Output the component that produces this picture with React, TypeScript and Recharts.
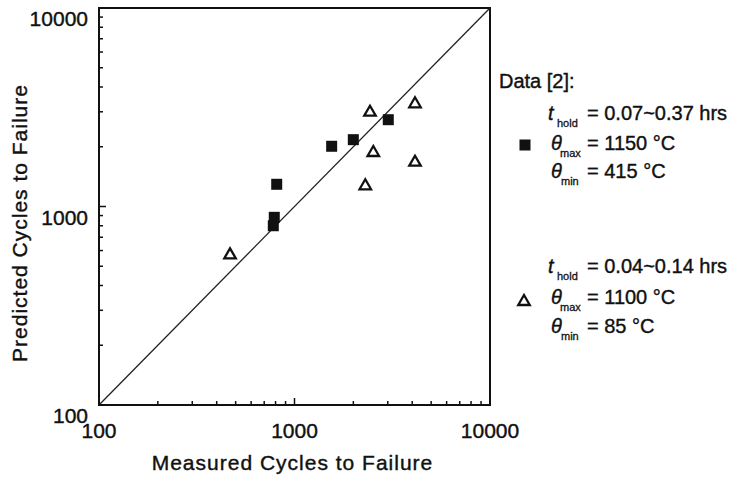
import React from 'react';
import {
  ScatterChart,
  Scatter,
  XAxis,
  YAxis,
  ReferenceLine,
  ReferenceArea,
  Label,
} from 'recharts';

const FONT = '"Liberation Sans", Arial, Helvetica, sans-serif';
const INK = '#111';

const decades = [100, 1000, 10000];
const minorTicks = [
  200, 300, 400, 500, 600, 700, 800, 900,
  2000, 3000, 4000, 5000, 6000, 7000, 8000, 9000,
];
const allTicks = [...decades, ...minorTicks].sort((a, b) => a - b);

// t_hold = 0.07~0.37 hrs, θmax 1150 °C, θmin 415 °C
const longHoldMeasured = [811, 788, 779, 1549, 1999, 3018];
const longHoldPredicted = [1294, 882, 800, 2011, 2171, 2737];

// t_hold = 0.04~0.14 hrs, θmax 1100 °C, θmin 85 °C
const shortHoldMeasured = [468, 2433, 4134, 2530, 4134, 2302];
const shortHoldPredicted = [581, 3038, 3350, 1904, 1701, 1294];

const longHold = longHoldMeasured.map((x, i) => ({ x, y: longHoldPredicted[i] }));
const shortHold = shortHoldMeasured.map((x, i) => ({ x, y: shortHoldPredicted[i] }));

const isMajor = (v: number) => decades.includes(v);

// a thin outline makes the sans text read a little heavier
const heavy = { stroke: INK, strokeWidth: 0.4 };

function BottomTick({ x, y, payload }: any) {
  const major = isMajor(payload.value);
  return (
    <g>
      <line x1={x} x2={x} y1={y} y2={y - (major ? 7 : 4)} stroke={INK} strokeWidth={1.5} />
      {major && (
        <text x={x} y={y + 33} textAnchor="middle" fontSize={21} fontFamily={FONT} fill={INK} {...heavy}>
          {payload.value}
        </text>
      )}
    </g>
  );
}

function LeftTick({ x, y, payload }: any) {
  const major = isMajor(payload.value);
  return (
    <g>
      <line x1={x} x2={x + (major ? 7 : 4)} y1={y} y2={y} stroke={INK} strokeWidth={1.5} />
      {major && (
        <text x={x - 11} y={y + 18} textAnchor="end" fontSize={21} fontFamily={FONT} fill={INK} {...heavy}>
          {payload.value}
        </text>
      )}
    </g>
  );
}

function RightTick({ x, y, payload }: any) {
  const major = isMajor(payload.value);
  return <line x1={x} x2={x - (major ? 7 : 4)} y1={y} y2={y} stroke={INK} strokeWidth={1.5} />;
}

function SquareMark({ cx, cy }: any) {
  return <rect x={cx - 5.5} y={cy - 5.5} width={11} height={11} fill={INK} />;
}

function TriangleMark({ cx, cy }: any) {
  const w = 11.5;
  const h = 10;
  return (
    <polygon
      points={`${cx},${cy - h / 2} ${cx + w / 2},${cy + h / 2} ${cx - w / 2},${cy + h / 2}`}
      fill="#fff"
      stroke={INK}
      strokeWidth={2.3}
    />
  );
}

const titleStyle = { fontSize: 21, fontFamily: FONT, fill: INK, letterSpacing: 1, ...heavy };

function Legend() {
  const row = { fontSize: 20, fontFamily: FONT, fill: INK, ...heavy };
  const sub = { fontSize: 11, fontFamily: FONT, strokeWidth: 0.3 };
  return (
    <svg
      width={731}
      height={477}
      style={{ position: 'absolute', left: 0, top: 0, pointerEvents: 'none' }}
    >
      <text x={499} y={88} {...row}>Data [2]:</text>

      <text x={548} y={120} {...row}>
        <tspan fontStyle="italic">t</tspan>
        <tspan x={557} dy={7} {...sub}>hold</tspan>
        <tspan x={587} dy={-7}>= 0.07~0.37 hrs</tspan>
      </text>
      <SquareMark cx={525} cy={145} />
      <text x={551} y={150} {...row}>
        <tspan fontStyle="italic">θ</tspan>
        <tspan x={560} dy={7} {...sub}>max</tspan>
        <tspan x={587} dy={-7}>= 1150 °C</tspan>
      </text>
      <text x={551} y={178} {...row}>
        <tspan fontStyle="italic">θ</tspan>
        <tspan x={561} dy={7} {...sub}>min</tspan>
        <tspan x={587} dy={-7}>= 415 °C</tspan>
      </text>

      <text x={548} y={273} {...row}>
        <tspan fontStyle="italic">t</tspan>
        <tspan x={557} dy={7} {...sub}>hold</tspan>
        <tspan x={587} dy={-7}>= 0.04~0.14 hrs</tspan>
      </text>
      <TriangleMark cx={524} cy={300} />
      <text x={551} y={304} {...row}>
        <tspan fontStyle="italic">θ</tspan>
        <tspan x={560} dy={7} {...sub}>max</tspan>
        <tspan x={587} dy={-7}>= 1100 °C</tspan>
      </text>
      <text x={551} y={333} {...row}>
        <tspan fontStyle="italic">θ</tspan>
        <tspan x={561} dy={7} {...sub}>min</tspan>
        <tspan x={587} dy={-7}>= 85 °C</tspan>
      </text>
    </svg>
  );
}

export default function App() {
  return (
    <div style={{ position: 'absolute', left: 0, top: 0, width: 731, height: 477, background: '#fff' }}>
      <ScatterChart width={731} height={477} margin={{ top: 8, right: 241, bottom: 0, left: 0 }}>
        <XAxis
          dataKey="x"
          type="number"
          scale="log"
          domain={[100, 10000]}
          ticks={allTicks}
          interval={0}
          allowDataOverflow
          height={72}
          axisLine={false}
          tickLine={false}
          tickSize={0}
          tickMargin={0}
          tick={<BottomTick />}
        >
          <Label
            content={({ viewBox }: any) => (
              <text
                x={viewBox.x + viewBox.width / 2 - 2}
                y={viewBox.y + 65}
                textAnchor="middle"
                {...titleStyle}
              >
                Measured Cycles to Failure
              </text>
            )}
          />
        </XAxis>
        <YAxis
          yAxisId="l"
          dataKey="y"
          type="number"
          scale="log"
          domain={[100, 10000]}
          ticks={allTicks}
          interval={0}
          allowDataOverflow
          width={99}
          axisLine={false}
          tickLine={false}
          tickSize={0}
          tickMargin={0}
          tick={<LeftTick />}
        >
          <Label
            content={({ viewBox }: any) => {
              const cx = 27;
              const cy = viewBox.y + 215;
              return (
                <text
                  x={cx}
                  y={cy}
                  transform={`rotate(-90 ${cx} ${cy})`}
                  textAnchor="middle"
                  {...titleStyle}
                >
                  Predicted Cycles to Failure
                </text>
              );
            }}
          />
        </YAxis>
        <YAxis
          yAxisId="r"
          orientation="right"
          type="number"
          scale="log"
          domain={[100, 10000]}
          ticks={allTicks}
          interval={0}
          allowDataOverflow
          width={0}
          axisLine={false}
          tickLine={false}
          tickSize={0}
          tickMargin={0}
          tick={<RightTick />}
        />
        <ReferenceArea
          yAxisId="l"
          x1={100}
          x2={10000}
          y1={100}
          y2={10000}
          fill="none"
          stroke={INK}
          strokeWidth={2}
          ifOverflow="visible"
        />
        <ReferenceLine
          yAxisId="l"
          segment={[{ x: 100, y: 100 }, { x: 10000, y: 10000 }]}
          stroke="#222"
          strokeWidth={1.3}
        />
        <Scatter yAxisId="l" data={longHold} shape={<SquareMark />} isAnimationActive={false} />
        <Scatter yAxisId="l" data={shortHold} shape={<TriangleMark />} isAnimationActive={false} />
      </ScatterChart>
      <Legend />
    </div>
  );
}
